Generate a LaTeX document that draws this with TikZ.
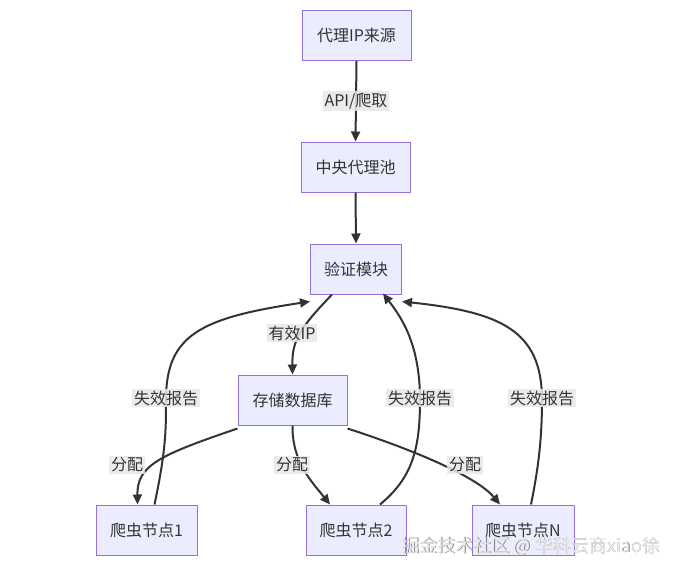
\documentclass[tikz,border=0pt]{standalone}
\usepackage{fontspec}
\setmainfont{Noto Sans CJK SC}
\usetikzlibrary{arrows.meta}
\definecolor{nodefill}{HTML}{ECECFF}
\definecolor{nodeborder}{HTML}{9370DB}
\definecolor{edgecol}{HTML}{333333}
\definecolor{lblbg}{HTML}{E8E8E8}
\tikzset{
  box/.style={draw=nodeborder, fill=nodefill, line width=1pt, minimum height=50pt,
    inner sep=0pt, font=\fontsize{16}{18}\selectfont, text=edgecol},
  conn/.style={draw=edgecol, line width=2pt, -{Triangle[length=10pt,width=9pt]}},
  lbl/.style={fill=lblbg, fill opacity=0.85, text opacity=1, inner xsep=2pt, inner ysep=2pt,
    font=\fontsize{16}{18}\selectfont, text=edgecol},
}
\begin{document}
\begin{tikzpicture}[x=1pt,y=-1pt]
\useasboundingbox[fill=white] (0,0) rectangle (678,571);
% nodes
\node[box, minimum width=109pt] (src) at (356.5,35.5) {代理IP来源};
\node[box, minimum width=109pt] (pool) at (355.5,167) {中央代理池};
\node[box, minimum width=91pt] (ver) at (356,269) {验证模块};
\node[box, minimum width=109pt] (db) at (292.5,400) {存储数据库};
\node[box, minimum width=101pt] (n1) at (146.5,530) {爬虫节点1};
\node[box, minimum width=100pt] (n2) at (356,530) {爬虫节点2};
\node[box, minimum width=102pt] (nN) at (523,530) {爬虫节点N};
% straight edges
\draw[conn] (src.south) -- (pool.north);
\node[lbl] (l1) at (356,101) {API/爬取};
\draw[conn] (pool.south) -- (ver.north);
% valid IP
\draw[conn] ([xshift=-24pt]ver.south) .. controls (300,328) and (292,340) .. (db.north);
\node[lbl] (l2) at (292,333) {有效IP};
% failure reports
\draw[conn] ([xshift=8pt]n1.north) .. controls (166,450) and (166,430) .. (166,400)
   .. controls (166,335) and (200,318) .. ([yshift=-7pt]ver.south west);
\node[lbl] (l3) at (166,398) {失效报告};
\draw[conn] ([xshift=24pt]n2.north) .. controls (412,478) and (420,450) .. (420,400)
   .. controls (420,345) and (402,318) .. ([xshift=27pt,yshift=1pt]ver.south);
\node[lbl] (l4) at (420,398) {失效报告};
\draw[conn] ([xshift=8pt]nN.north) .. controls (538,470) and (542,440) .. (542,400)
   .. controls (542,330) and (500,312) .. ([yshift=-7pt]ver.south east);
\node[lbl] (l5) at (542,398) {失效报告};
% allocate
\draw[conn] ([yshift=-3pt]db.south west) .. controls (160,455) and (137,465) .. ([xshift=-9pt]n1.north);
\node[lbl] (l6) at (127,465) {分配};
\draw[conn] (db.south) .. controls (292,462) and (312,482) .. ([xshift=-26pt]n2.north);
\node[lbl] (l7) at (292,465) {分配};
\draw[conn] ([yshift=-3pt]db.south east) .. controls (420,452) and (478,478) .. ([xshift=-23pt]nN.north);
\node[lbl] (l8) at (465,465) {分配};
% watermark
\node[text=black!50, font=\fontsize{18}{20}\selectfont] (wm0) at (531.8,546.8) {掘金技术社区 @ 华科云商xiao徐};
\node[text=white!92!black, font=\fontsize{18}{20}\selectfont] (wm) at (531,546) {掘金技术社区 @ 华科云商xiao徐};
\end{tikzpicture}
\end{document}
